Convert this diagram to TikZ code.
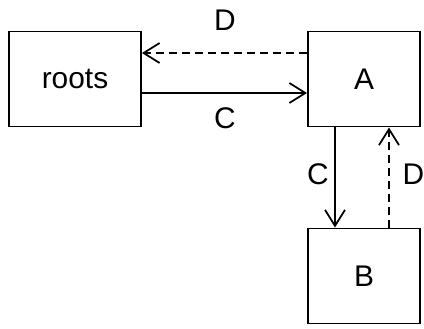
\documentclass[tikz,border=0pt]{standalone}
\usepackage{fontspec}
\setmainfont{Liberation Sans}
\usetikzlibrary{arrows.meta,positioning}
\tikzstyle{box}=[rectangle, draw=black, fill=white, line width=1.1pt, minimum width=2.24cm, minimum height=1.9cm, inner sep=0pt, font=\fontsize{17}{20}\selectfont]
\tikzstyle{l1}=[line width=1pt, -{Straight Barb[length=3.2mm,width=4mm,line width=1pt]}]
\tikzstyle{dsh}=[dash pattern=on 1.6mm off 1mm]
\tikzstyle{lbl}=[font=\fontsize{17}{20}\selectfont, inner sep=0pt]

\begin{document}
\begin{tikzpicture}[scale=1]
    \useasboundingbox (0,0) rectangle (8.48,6.58);
    \node[box, minimum width=2.64cm] at (1.5,5.0) (roots) {roots};
    \node[box] at (7.28,5.0) (a) {A};
    \node[box] at (7.28,1.06) (b) {B};

    \draw[l1, dsh, transform canvas={yshift=0.52cm}] (a) -- (roots);
    \draw[l1, transform canvas={yshift=-0.28cm}] (roots) -- (a);
    \draw[l1, transform canvas={xshift=-0.58cm}] (a) -- (b);
    \draw[l1, dsh, transform canvas={xshift=0.5cm}] (b) -- (a);

    \node[lbl] at (4.5,6.18) (d1) {D};
    \node[lbl] at (4.5,4.22) (c1) {C};
    \node[lbl] at (6.36,3.1) (c2) {C};
    \node[lbl] at (8.27,3.1) (d2) {D};
\end{tikzpicture}
\end{document}
